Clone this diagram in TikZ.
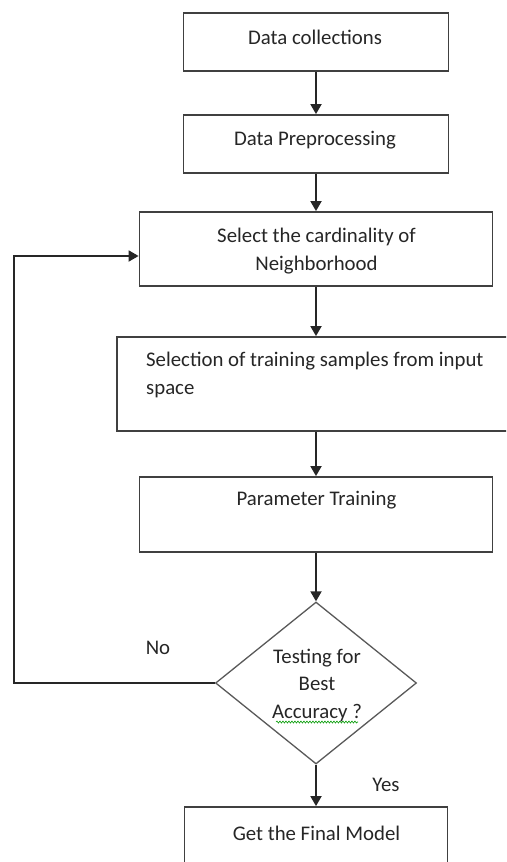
\documentclass[tikz,border=0pt]{standalone}
\usepackage{fontspec}
\setmainfont{Carlito}
\usetikzlibrary{arrows.meta,shapes.geometric,decorations.pathmorphing}
\begin{document}
\begin{tikzpicture}[x=1pt,y=-1pt,
  box/.style={draw=black!75,line width=1.8pt,rectangle,inner sep=0pt,fill=white},
  txt/.style={font=\fontsize{20.8}{27.5}\selectfont,text=black!85,inner sep=0pt,anchor=center},
  arr/.style={draw=black!85,line width=1.8pt,-{Triangle[length=10pt,width=11pt]}},
  dia/.style={draw=black!65,line width=1.3pt,diamond,inner sep=0pt,minimum width=201pt,minimum height=162pt}]
\useasboundingbox (0,0) rectangle (506,862);
\clip (0,0) rectangle (506,862);
% boxes
\node[box,minimum width=265pt,minimum height=58pt] (b1) at (316,42) {};
\node[box,minimum width=265pt,minimum height=58pt] (b2) at (316,144) {};
\node[box,minimum width=353pt,minimum height=74pt] (b3) at (316,249) {};
\node[box,minimum width=413pt,minimum height=94pt] (b4) at (323.5,384) {};
\node[box,minimum width=353pt,minimum height=75pt] (b5) at (316,514.5) {};
\node[dia] (d) at (316,683) {};
\node[box,minimum width=263pt,minimum height=90pt] (b6) at (316,852) {};
% texts
\node[txt] (t1) at (315,37) {Data collections};
\node[txt] (t2) at (315,140) {Data Preprocessing};
\node[txt,align=center] (t3) at (316.5,251) {Select the cardinality of\\Neighborhood};
\node[txt,align=left,anchor=west] (t4) at (146,375) {Selection of training samples from input\\space};
\node[txt] (t5) at (316.5,500) {Parameter Training};
\node[txt,align=center] (t6) at (317,685) {Testing for\\Best\\Accuracy ?};
\node[txt] (t7) at (316.5,833) {Get the Final Model};
\node[txt] (no) at (158,648) {No};
\node[txt] (yes) at (386,785) {Yes};
% spell-check squiggle
\coordinate (sq1) at (276,722);
\coordinate (sq2) at (358,722);
\draw[green!60!black,line width=0.6pt,decorate,decoration={snake,amplitude=1pt,segment length=3pt}] (sq1) -- (sq2);
% connectors
\coordinate (b4in) at ([xshift=-7.5pt]b4.north);
\coordinate (b4out) at ([xshift=-7.5pt]b4.south);
\draw[arr] (b1.south) -- (b2.north);
\draw[arr] (b2.south) -- (b3.north);
\draw[arr] (b3.south) -- (b4in);
\draw[arr] (b4out) -- (b5.north);
\draw[arr] (b5.south) -- (d.north);
\draw[arr] (d.south) -- (b6.north);
\coordinate (fb) at (14,683);
\draw[arr] (d.west) -- (fb) |- ([yshift=-7pt]b3.west);
\end{tikzpicture}
\end{document}
